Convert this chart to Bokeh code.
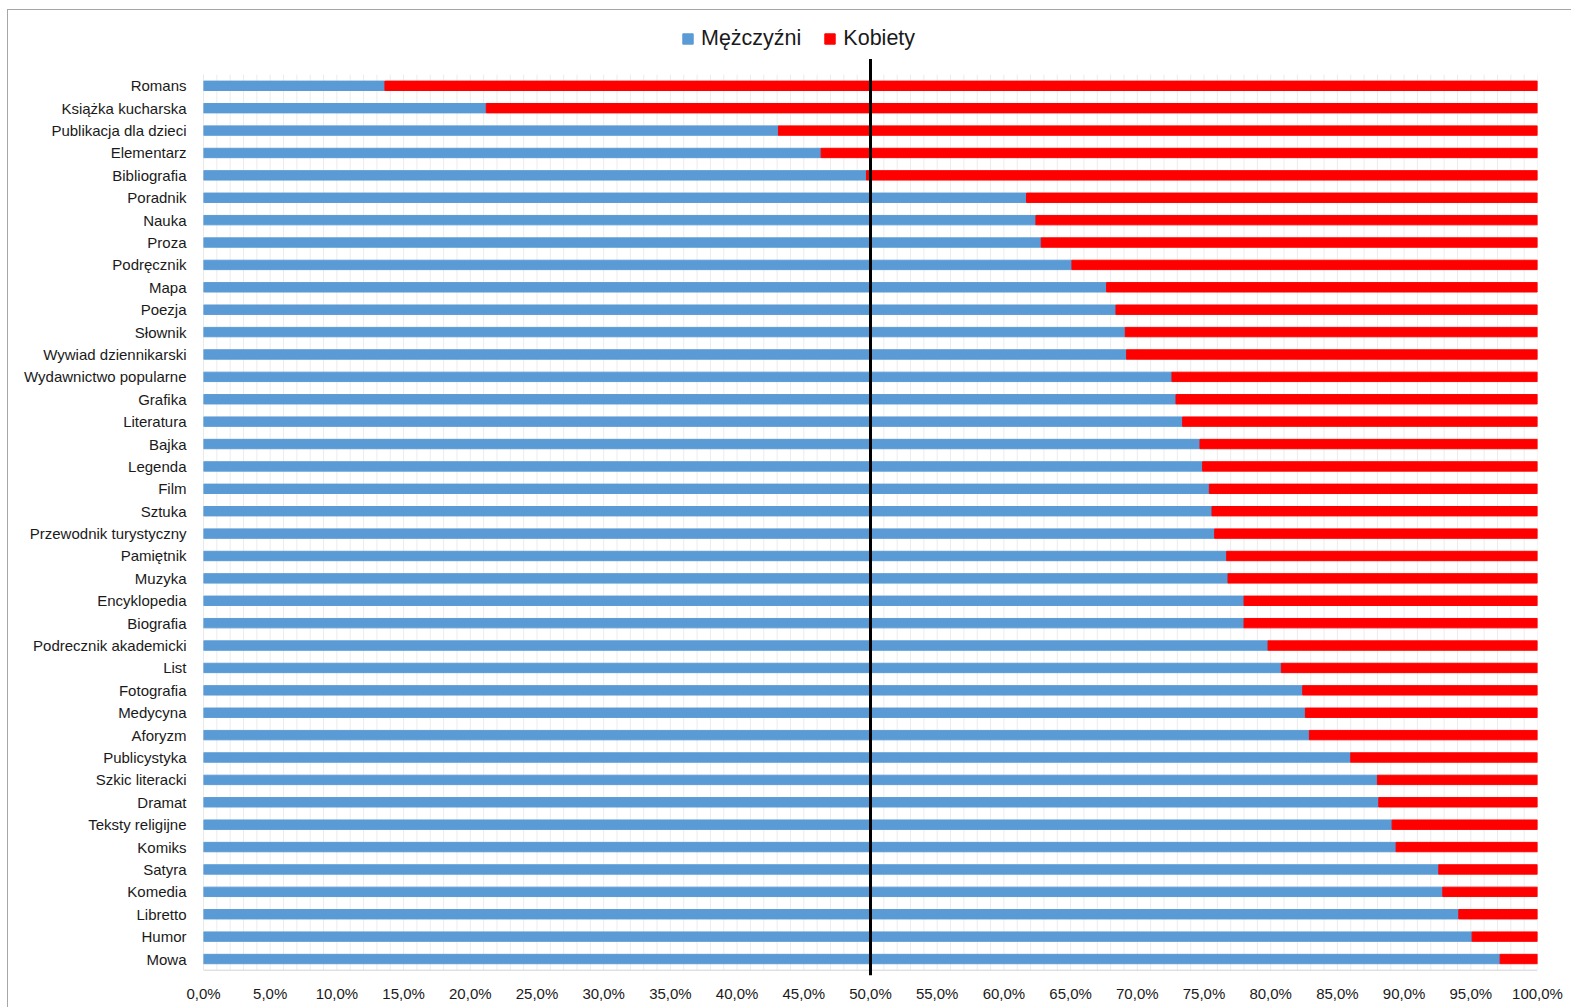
from bokeh.plotting import figure
from bokeh.models import Range1d, FixedTicker, Legend, LegendItem, ColumnDataSource
from bokeh.embed import file_html
from bokeh.resources import INLINE

# ---- data (top to bottom) ----
categories = [
    "Romans", "Książka kucharska", "Publikacja dla dzieci", "Elementarz", "Bibliografia",
    "Poradnik", "Nauka", "Proza", "Podręcznik", "Mapa", "Poezja", "Słownik",
    "Wywiad dziennikarski", "Wydawnictwo popularne", "Grafika", "Literatura", "Bajka",
    "Legenda", "Film", "Sztuka", "Przewodnik turystyczny", "Pamiętnik", "Muzyka",
    "Encyklopedia", "Biografia", "Podrecznik akademicki", "List", "Fotografia",
    "Medycyna", "Aforyzm", "Publicystyka", "Szkic literacki", "Dramat",
    "Teksty religijne", "Komiks", "Satyra", "Komedia", "Libretto", "Humor", "Mowa",
]
men = [13.6, 21.2, 43.1, 46.3, 49.7, 61.7, 62.4, 62.8, 65.1, 67.7, 68.4, 69.1, 69.2,
       72.6, 72.9, 73.4, 74.7, 74.9, 75.4, 75.6, 75.8, 76.7, 76.8, 78.0, 78.0, 79.8,
       80.8, 82.4, 82.6, 82.9, 86.0, 88.0, 88.1, 89.1, 89.4, 92.6, 92.9, 94.1, 95.1, 97.2]
women = [86.4, 78.8, 56.9, 53.7, 50.3, 38.3, 37.6, 37.2, 34.9, 32.3, 31.6, 30.9, 30.8,
         27.4, 27.1, 26.6, 25.3, 25.1, 24.6, 24.4, 24.2, 23.3, 23.2, 22.0, 22.0, 20.2,
         19.2, 17.6, 17.4, 17.1, 14.0, 12.0, 11.9, 10.9, 10.6, 7.4, 7.1, 5.9, 4.9, 2.8]
series_names = ["Mężczyźni", "Kobiety"]
x_ticks = [0, 5, 10, 15, 20, 25, 30, 35, 40, 45, 50, 55, 60, 65, 70, 75, 80, 85, 90, 95, 100]
x_tick_labels = ["0,0%", "5,0%", "10,0%", "15,0%", "20,0%", "25,0%", "30,0%", "35,0%",
                 "40,0%", "45,0%", "50,0%", "55,0%", "60,0%", "65,0%", "70,0%", "75,0%",
                 "80,0%", "85,0%", "90,0%", "95,0%", "100,0%"]
reference_line = 50

BLUE = "#5B9BD5"
RED = "#FF0000"
FONT = "Liberation Sans"
TEXT = "#1a1a1a"
FRAME = "#a6a6a6"

n = len(categories)
rows = list(range(n))
src = ColumnDataSource(dict(y=rows, men=men, women=women))

W, H = 1571, 1007
p = figure(width=W, height=H, output_backend="svg", toolbar_location=None,
           x_range=Range1d(0, 100), y_range=Range1d(39.736, -3.095),
           min_border_left=203, min_border_right=34, min_border_top=16,
           min_border_bottom=32)
p.title.visible = False
p.outline_line_color = None
p.background_fill_color = "white"
p.border_fill_color = None
p.grid.visible = False
p.styles = {
    "background": (f"linear-gradient({FRAME},{FRAME}) 7px 9px / 1564px 1px no-repeat, "
                   f"linear-gradient({FRAME},{FRAME}) 7px 9px / 1px 998px no-repeat, white")
}

# light vertical gridlines every 1%
gx = list(range(1, 101))
p.segment(x0=gx, x1=gx, y0=[-0.5] * len(gx), y1=[n - 0.5] * len(gx),
          line_color="#ececec", line_width=1)
# axis lines
p.segment(x0=[0, 0], x1=[0, 100], y0=[-0.5, n - 0.5], y1=[n - 0.5, n - 0.5],
          line_color="#d4d4d4", line_width=1)

rs = p.hbar_stack(["men", "women"], y="y", height=0.42, color=[BLUE, RED], source=src)

# 50% reference line
p.segment(x0=[reference_line], x1=[reference_line], y0=[-1.2], y1=[39.736],
          line_color="black", line_width=3)

legend = Legend(items=[LegendItem(label=series_names[0], renderers=[rs[0]]),
                       LegendItem(label=series_names[1], renderers=[rs[1]])],
                location=(478, 924), orientation="horizontal",
                label_text_font=FONT, label_text_font_size="21.5px", label_text_color=TEXT,
                glyph_width=13, glyph_height=13, label_standoff=7, spacing=22,
                padding=3, margin=0, border_line_color=None, background_fill_alpha=0)
p.add_layout(legend)

# axes
p.xaxis.ticker = FixedTicker(ticks=x_ticks)
p.xaxis.major_label_overrides = {t: l for t, l in zip(x_ticks, x_tick_labels)}
p.yaxis.ticker = FixedTicker(ticks=rows)
p.yaxis.major_label_overrides = {i: c for i, c in zip(rows, categories)}
for ax in (p.xaxis, p.yaxis):
    ax.axis_line_color = None
    ax.major_tick_line_color = None
    ax.minor_tick_line_color = None
    ax.major_tick_out = 0
    ax.major_tick_in = 0
    ax.minor_tick_out = 0
    ax.major_label_text_font = FONT
    ax.major_label_text_font_size = "15px"
    ax.major_label_text_color = TEXT
p.yaxis.major_label_standoff = 17
p.xaxis.major_label_standoff = 9

open("out.html", "w").write(file_html(p, INLINE))
